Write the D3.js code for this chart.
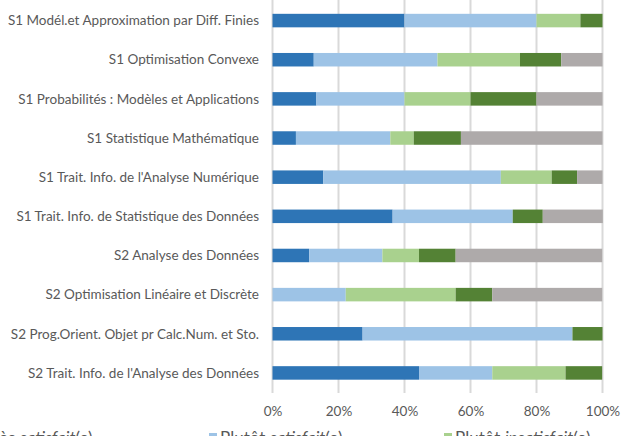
<!DOCTYPE html>
<html>
<head>
<meta charset="utf-8">
<script src="https://cdn.jsdelivr.net/npm/d3@7"></script>
<style>
  body { margin: 0; background: #fff; }
  svg { display: block; font-family: Lato, "Open Sans", sans-serif; }
  .cat text, .tick text { fill: #595959; }
</style>
</head>
<body>
<svg class="chart"></svg>
<script>
var categories = [
  "S1 Modél.et Approximation par Diff. Finies",
  "S1 Optimisation Convexe",
  "S1 Probabilités : Modèles et Applications",
  "S1 Statistique Mathématique",
  "S1 Trait. Info. de l'Analyse Numérique",
  "S1 Trait. Info. de Statistique des Données",
  "S2 Analyse des Données",
  "S2 Optimisation Linéaire et Discrète",
  "S2 Prog.Orient. Objet pr Calc.Num. et Sto.",
  "S2 Trait. Info. de l'Analyse des Données"
];

// shares in % per category
var tresSatisfait    = [40.0, 12.5, 13.3,  7.1, 15.4, 36.4, 11.1,  0.0, 27.3, 44.4];
var plutotSatisfait  = [40.0, 37.5, 26.7, 28.6, 53.8, 36.4, 22.2, 22.2, 63.6, 22.2];
var plutotInsatisf   = [13.3, 25.0, 20.0,  7.1, 15.4,  0.0, 11.1, 33.3,  0.0, 22.2];
var tresInsatisf     = [ 6.7, 12.5, 20.0, 14.3,  7.7,  9.1, 11.1, 11.1,  9.1, 11.1];
var sansAvis         = [ 0.0, 12.5, 20.0, 42.9,  7.7, 18.2, 44.4, 33.3,  0.0,  0.0];

var seriesNames = ["Très satisfait(e)", "Plutôt satisfait(e)", "Plutôt insatisfait(e)", "Très insatisfait(e)", "Sans avis"];
var seriesColors = ["#2e75b6", "#9dc3e6", "#a9d18e", "#548235", "#aeaaaa"];
var ticks = [0, 20, 40, 60, 80, 100];

var W = 623, H = 441;
var svg = d3.select(".chart").attr("width", W).attr("height", H);

var x = d3.scaleLinear().domain([0, 100]).range([272.5, 602.5]);
var y = d3.scaleBand()
  .domain(categories)
  .range([1, 392.5])
  .paddingInner(0.655)
  .paddingOuter(0.3275);

var keys = ["a", "b", "c", "d", "e"];
var rows = categories.map(function(c, i) {
  return { cat: c, a: tresSatisfait[i], b: plutotSatisfait[i], c: plutotInsatisf[i], d: tresInsatisf[i], e: sansAvis[i] };
});
var stack = d3.stack().keys(keys)(rows);

// gridlines
svg.append("g")
  .selectAll("line")
  .data(ticks)
  .enter().append("line")
    .attr("x1", function(d) { return x(d); })
    .attr("x2", function(d) { return x(d); })
    .attr("y1", 0)
    .attr("y2", 393)
    .attr("stroke", "#d9d9d9")
    .attr("stroke-width", 2);

// bars
svg.append("g")
  .selectAll("g")
  .data(stack)
  .enter().append("g")
    .attr("fill", function(d, i) { return seriesColors[i]; })
  .selectAll("rect")
  .data(function(d) { return d; })
  .enter().append("rect")
    .attr("x", function(d) { return x(d[0]); })
    .attr("width", function(d) { return x(d[1]) - x(d[0]); })
    .attr("y", function(d) { return y(d.data.cat); })
    .attr("height", y.bandwidth());

// x axis labels
var xAxis = d3.axisBottom(x)
  .tickValues(ticks)
  .tickSize(0)
  .tickPadding(0)
  .tickFormat(function(d) { return d + "%"; });
var gx = svg.append("g")
  .attr("transform", "translate(0,406)")
  .call(xAxis);
gx.select(".domain").remove();
gx.selectAll("text")
  .attr("dy", "0.71em")
  .style("font-size", "13.5px")
  .style("font-family", "Lato, sans-serif");

// category labels
svg.append("g")
  .attr("class", "cat")
  .selectAll("text")
  .data(categories)
  .enter().append("text")
    .attr("x", 259)
    .attr("y", function(d) { return y(d) + y.bandwidth() / 2; })
    .attr("dy", "0.35em")
    .attr("text-anchor", "end")
    .style("font-size", "13.5px")
    .text(function(d) { return d; });

// legend (bottom; the reference frame cuts it off after its top half)
svg.append("clipPath")
  .attr("id", "legclip")
  .append("rect")
    .attr("x", 0).attr("y", 420).attr("width", W).attr("height", 16);

var legend = svg.append("g")
  .attr("clip-path", "url(#legclip)")
  .selectAll("g")
  .data(seriesNames)
  .enter().append("g")
    .attr("transform", function(d, i) {
      return "translate(" + (-26 + (i % 3) * 235) + "," + (444 + Math.floor(i / 3) * 22) + ")";
    });
legend.append("rect")
  .attr("x", 0)
  .attr("y", -11)
  .attr("width", 8)
  .attr("height", 8)
  .attr("fill", function(d, i) { return seriesColors[i]; });
legend.append("text")
  .attr("x", 11)
  .attr("y", 0)
  .attr("fill", "#595959")
  .style("font-size", "17px")
  .each(function(d) {
    var m = d.match(/^(\S+ )(\S+?)(\(e\))$/);
    var t = d3.select(this);
    if (m) {
      t.append("tspan").text(m[1]);
      t.append("tspan").style("font-style", "italic").text(m[2]);
      t.append("tspan").text(m[3]);
    } else {
      t.text(d);
    }
  });
</script>
</body>
</html>
